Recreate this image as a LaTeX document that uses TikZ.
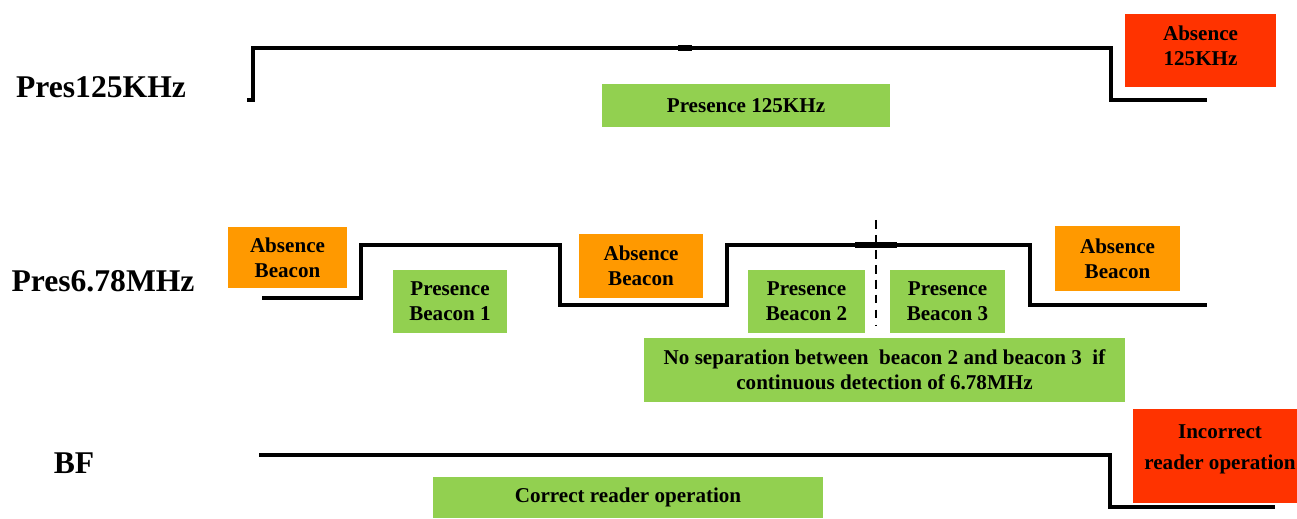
\documentclass[tikz,border=0pt]{standalone}
\usepackage{fontspec}
\setmainfont{Liberation Serif}
\definecolor{gfill}{HTML}{92D050}
\definecolor{ofill}{HTML}{FF9900}
\definecolor{rfill}{HTML}{FF3300}
\begin{document}
\begin{tikzpicture}[x=0.02cm,y=-0.02cm,
  boxbase/.style 2 args={minimum width=#1*0.02cm, minimum height=#2*0.02cm, inner sep=0pt, align=center,
     font=\fontsize{12}{14}\selectfont\bfseries},
  gbox/.style 2 args={boxbase={#1}{#2}, fill=gfill},
  obox/.style 2 args={boxbase={#1}{#2}, fill=ofill},
  rbox/.style 2 args={boxbase={#1}{#2}, fill=rfill},
  lbl/.style={font=\fontsize{18}{20}\selectfont\bfseries, inner sep=0pt},
  wave/.style={line width=2.8pt, line join=miter, black},
  sep/.style={line width=1.2pt, dash pattern=on 5pt off 3.5pt, black}]
\useasboundingbox (0,0) rectangle (1297,519);
\clip (0,0) rectangle (1297,519);

% row labels
\node[lbl] (l1) at (101,87) {Pres125KHz};
\node[lbl] (l2) at (103,281) {Pres6.78MHz};
\node[lbl] (l3) at (74,463) {BF};

% boxes
\path[fill=rfill] (1125,14) rectangle (1276,87);
\node[boxbase={151}{60}] (a125) at (1200.5,46) {Absence\\125KHz};
\node[gbox={288}{43}] (p125) at (746,105.5) {Presence 125KHz};
\node[obox={119}{61}] (ab1) at (287.5,257.5) {Absence\\Beacon};
\node[gbox={114}{63}] (pb1) at (450,301.5) {Presence\\Beacon 1};
\node[obox={124}{64}] (ab2) at (641,266) {Absence\\Beacon};
\node[gbox={117}{63}] (pb2) at (806.5,301.5) {Presence\\Beacon 2};
\node[gbox={115}{63}] (pb3) at (947.5,301.5) {Presence\\Beacon 3};
\node[obox={125}{65}] (ab3) at (1117.5,258.5) {Absence\\Beacon};
\node[gbox={481}{64}] (nosep) at (884.5,370) {No separation between\ \ beacon 2 and beacon 3\ \ if\\continuous detection of 6.78MHz};
\node[gbox={390}{41}] (cro) at (628,497.5) {Correct reader operation};
\path[fill=rfill] (1133,409) rectangle (1310,503);
\node[boxbase={160}{60}, font=\fontsize{12}{17.5}\selectfont\bfseries] (iro) at (1220,449) {Incorrect\\reader operation};

% waveforms
\draw[wave] (247,100) -- (253,100) -- (253,48) -- (1111,48) -- (1111,100) -- (1207,100);
\draw[line width=3.0pt] (678,48) -- (692,48);
\draw[wave] (262,298) -- (361,298) -- (361,245) -- (560,245) -- (560,305) -- (727,305)
  -- (727,245) -- (1030,245) -- (1030,305) -- (1207,305);
\draw[line width=3.0pt] (855,245) -- (897,245);
\draw[wave] (259,455) -- (1110,455) -- (1110,507) -- (1275,507);

% separator
\coordinate (st) at (876,220);
\coordinate (sb) at (876,326);
\draw[sep] (st) -- (sb);
\end{tikzpicture}
\end{document}
